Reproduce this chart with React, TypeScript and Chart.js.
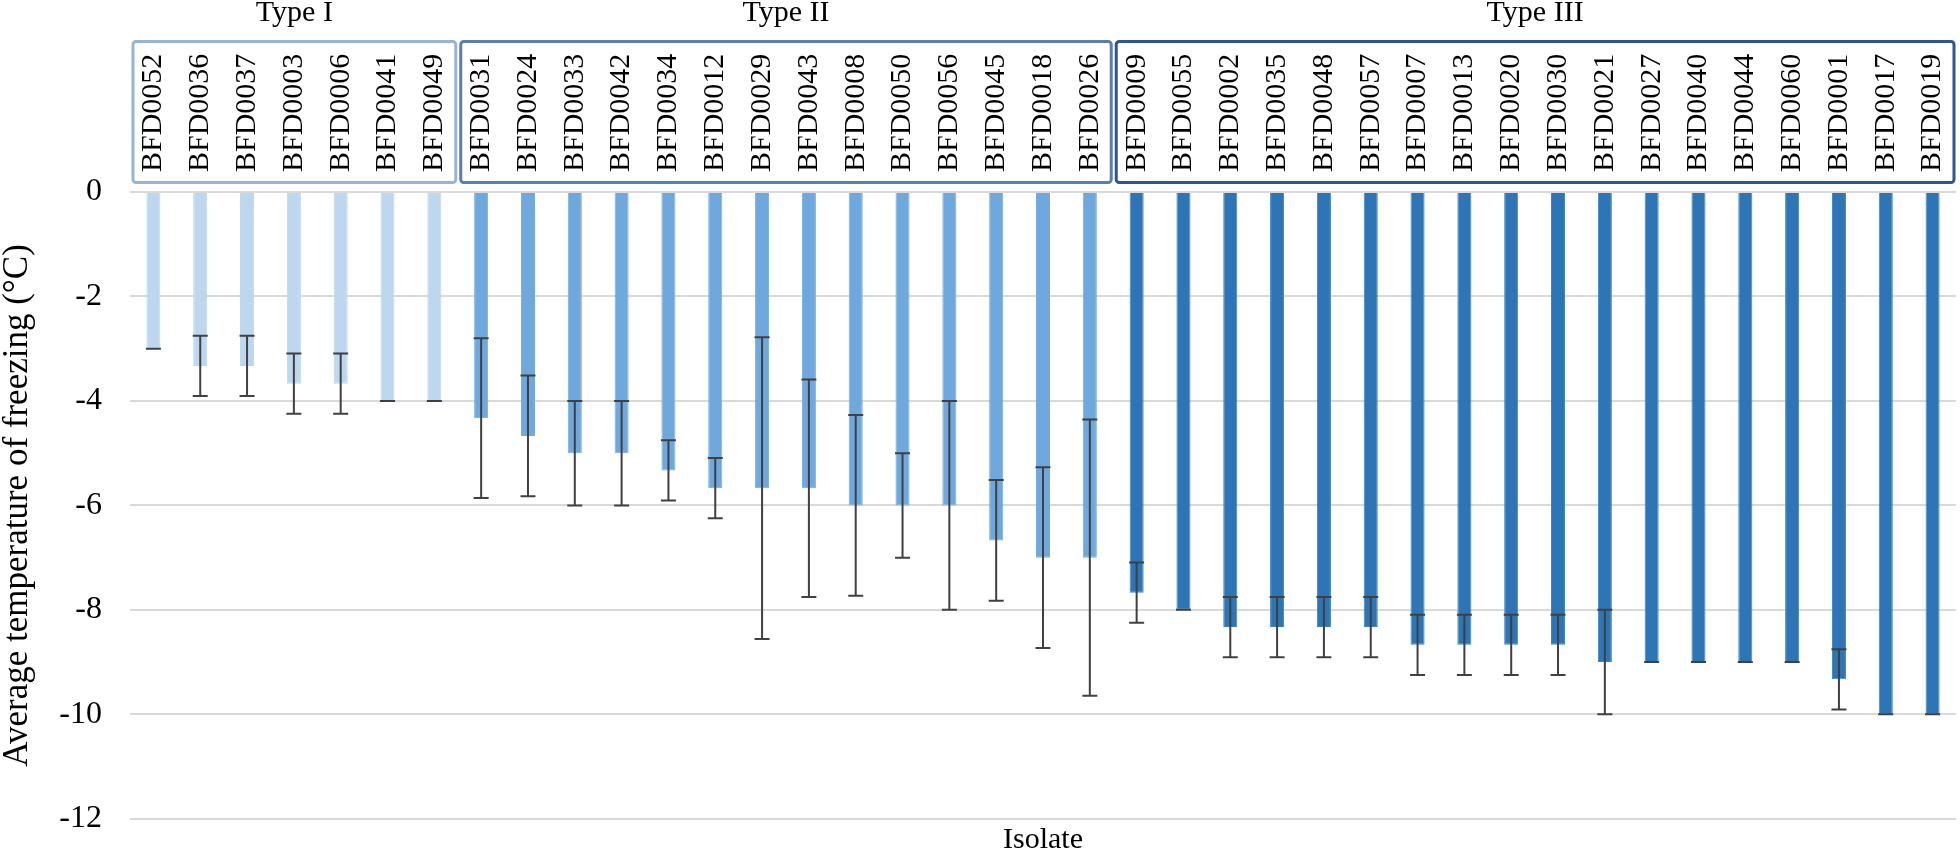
import React, { useEffect, useRef } from "react";
import { Chart, registerables } from "chart.js";

Chart.register(...registerables);

const isolates = [
  "BFD0052", "BFD0036", "BFD0037", "BFD0003", "BFD0006", "BFD0041", "BFD0049",
  "BFD0031", "BFD0024", "BFD0033", "BFD0042", "BFD0034", "BFD0012", "BFD0029",
  "BFD0043", "BFD0008", "BFD0050", "BFD0056", "BFD0045", "BFD0018", "BFD0026",
  "BFD0009", "BFD0055", "BFD0002", "BFD0035", "BFD0048", "BFD0057", "BFD0007",
  "BFD0013", "BFD0020", "BFD0030", "BFD0021", "BFD0027", "BFD0040", "BFD0044",
  "BFD0060", "BFD0001", "BFD0017", "BFD0019",
];

const meanTemps = [
  -3, -3.33, -3.33, -3.67, -3.67, -4, -4,
  -4.33, -4.67, -5, -5, -5.33, -5.67, -5.67, -5.67, -6, -6, -6, -6.67, -7, -7,
  -7.67, -8, -8.33, -8.33, -8.33, -8.33, -8.67, -8.67, -8.67, -8.67, -9, -9, -9, -9, -9, -9.33, -10, -10,
];

const sdTemps = [
  0, 0.577, 0.577, 0.577, 0.577, 0, 0,
  1.528, 1.155, 1, 1, 0.577, 0.577, 2.887, 2.082, 1.732, 1, 2, 1.155, 1.732, 2.646,
  0.577, 0, 0.577, 0.577, 0.577, 0.577, 0.577, 0.577, 0.577, 0.577, 1, 0, 0, 0, 0, 0.577, 0, 0,
];

const groupNames = ["Type I", "Type II", "Type III"];
const groupSizes = [7, 14, 18];
const groupBarColors = ["#BDD7EE", "#6FA8DC", "#2E75B6"];
const groupBorderColors = ["#BDD7EE", "#74ACE0", "#3C82C4"];
const groupBoxColors = ["#97B3D6", "#5A7EAD", "#2F5593"];

const yTicks = [0, -2, -4, -6, -8, -10, -12];

const FONT = "'Liberation Serif', 'Times New Roman', serif";

function groupIndexOf(i: number): number {
  let acc = 0;
  for (let g = 0; g < groupSizes.length; g++) {
    acc += groupSizes[g];
    if (i < acc) return g;
  }
  return groupSizes.length - 1;
}

const errorBarPlugin = {
  id: "errorBars",
  afterDatasetsDraw(chart: any) {
    const { ctx, scales } = chart;
    const x = scales.x;
    const y = scales.y;
    ctx.save();
    ctx.strokeStyle = "#404040";
    ctx.lineWidth = 2;
    const cap = 7.5;
    meanTemps.forEach((m, i) => {
      const px = x.getPixelForValue(i);
      const top = y.getPixelForValue(m + sdTemps[i]);
      const bot = y.getPixelForValue(m - sdTemps[i]);
      ctx.beginPath();
      ctx.moveTo(px, top);
      ctx.lineTo(px, bot);
      ctx.moveTo(px - cap, top);
      ctx.lineTo(px + cap, top);
      ctx.moveTo(px - cap, bot);
      ctx.lineTo(px + cap, bot);
      ctx.stroke();
    });
    ctx.restore();
  },
};

const groupBoxPlugin = {
  id: "groupBoxes",
  afterDraw(chart: any) {
    const { ctx, scales } = chart;
    const x = scales.x;
    const half = (x.getPixelForValue(1) - x.getPixelForValue(0)) / 2;
    ctx.save();
    let start = 0;
    groupSizes.forEach((size, g) => {
      const end = start + size - 1;
      const left = x.getPixelForValue(start) - half + 3;
      const right = Math.min(x.getPixelForValue(end) + half - 2, chart.width - 4);
      const top = 41.5;
      const bottom = 182.5;
      ctx.strokeStyle = groupBoxColors[g];
      ctx.lineWidth = 3;
      ctx.beginPath();
      ctx.roundRect(left, top, right - left, bottom - top, 3);
      ctx.stroke();
      ctx.fillStyle = "#000";
      ctx.font = `30px ${FONT}`;
      ctx.textAlign = "center";
      ctx.textBaseline = "middle";
      ctx.fillText(groupNames[g], (left + right) / 2, 13);
      start += size;
    });
    ctx.restore();
  },
};

export default function App() {
  const canvasRef = useRef<HTMLCanvasElement | null>(null);

  useEffect(() => {
    if (!canvasRef.current) return;
    Chart.defaults.font.family = FONT;
    const chart = new Chart(canvasRef.current, {
      type: "bar",
      data: {
        labels: isolates,
        datasets: [
          {
            data: meanTemps,
            backgroundColor: isolates.map((_, i) => groupBarColors[groupIndexOf(i)]),
            borderColor: isolates.map((_, i) => groupBorderColors[groupIndexOf(i)]),
            borderWidth: 1,
            barPercentage: 0.3,
            categoryPercentage: 1,
          },
        ],
      },
      options: {
        responsive: false,
        animation: false,
        layout: { padding: { left: 0, right: 4, top: 0, bottom: 0 } },
        plugins: {
          legend: { display: false },
          tooltip: { enabled: false },
          title: {
            display: true,
            text: "Isolate",
            position: "bottom",
            fullSize: false,
            color: "#000",
            font: { size: 30, weight: "normal", family: FONT, lineHeight: 1 },
            padding: { top: 6, bottom: 0 },
          },
        },
        scales: {
          x: {
            position: "top",
            grid: { display: false, drawTicks: false },
            border: { display: false },
            ticks: {
              autoSkip: false,
              minRotation: 90,
              maxRotation: 90,
              padding: 20,
              labelOffset: 36,
              color: "#000",
              font: { size: 30, family: FONT, lineHeight: 1.2 },
            },
            afterFit: (scale: any) => {
              scale.height = 192;
            },
          },
          y: {
            min: -12,
            max: 0,
            afterBuildTicks: (scale: any) => {
              scale.ticks = yTicks.map((v) => ({ value: v }));
            },
            grid: { color: "#D9D9D9", lineWidth: 2, drawTicks: false },
            border: { display: false },
            ticks: {
              padding: 28,
              color: "#000",
              font: { size: 32, family: FONT },
            },
            title: {
              display: true,
              text: "Average temperature of freezing (°C)",
              color: "#000",
              font: { size: 35, family: FONT, lineHeight: 1 },
              padding: 0,
            },
            afterFit: (scale: any) => {
              scale.width = 130;
            },
          },
        },
      },
      plugins: [errorBarPlugin, groupBoxPlugin],
    });
    return () => chart.destroy();
  }, []);

  return (
    <div style={{ position: "fixed", left: 0, top: 0, width: 1960, height: 866, background: "#fff" }}>
      <canvas ref={canvasRef} width={1960} height={866} style={{ display: "block" }} />
    </div>
  );
}
